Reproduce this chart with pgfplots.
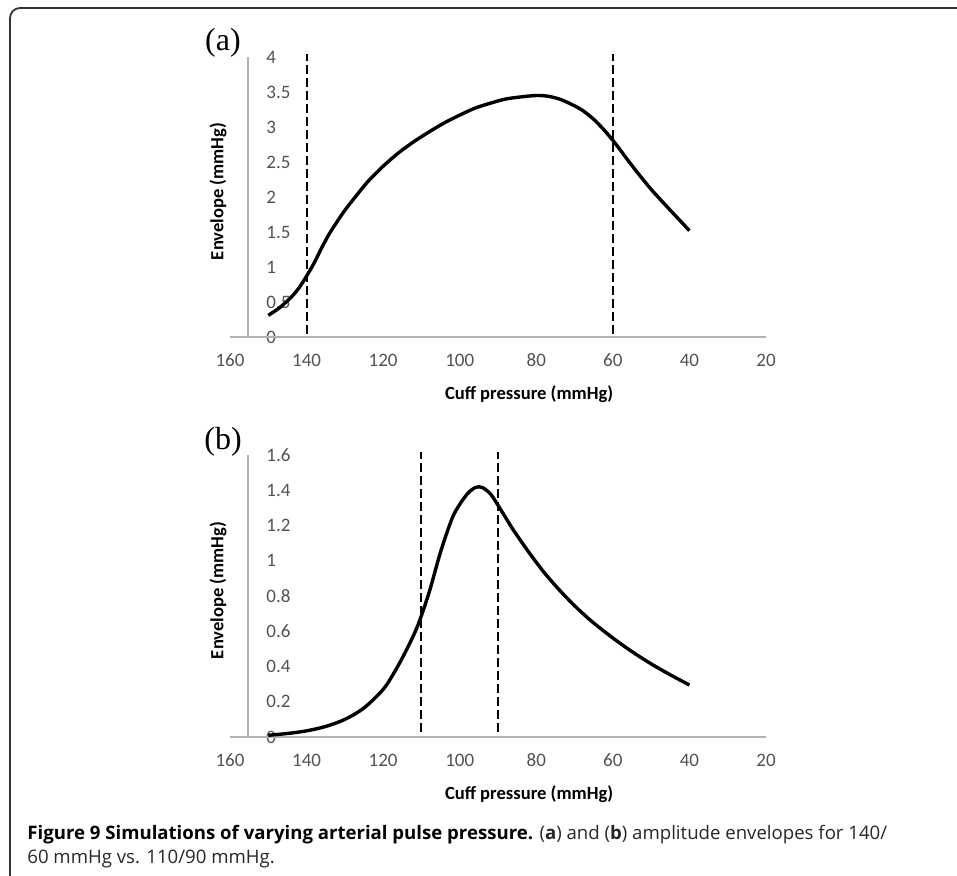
\documentclass[border=0pt]{standalone}
\usepackage{pgfplots}
\pgfplotsset{compat=1.18}
\usepackage{fontspec}
\setmainfont{Open Sans}
\newfontfamily\chartfont{Carlito}
\newfontfamily\panelfont{Liberation Serif}

\pgfplotsset{
  envaxis/.style={
    scale only axis,
    width=268pt,
    xmin=20, xmax=160, x dir=reverse,
    ymin=0,
    clip=false,
    axis line style={draw=none},
    major tick length=0pt,
    tick style={draw=none},
    xtick={20,40,...,160},
    /pgf/number format/assume math mode=true,
    tick label style={font=\chartfont\fontsize{9.5}{11}\selectfont, text=black!68},
    xticklabel style={anchor=center, yshift=-11.5pt},
    yticklabel style={anchor=west, inner sep=0pt, xshift=18pt},
    every axis x label/.style={at={(axis description cs:0.558,0)}, anchor=base, yshift=-31pt,
      font=\chartfont\bfseries\fontsize{9.3}{11}\selectfont},
    every axis y label/.style={at={(axis description cs:-0.0224,0.52)}, rotate=90, anchor=center,
      font=\chartfont\bfseries\fontsize{9.3}{11}\selectfont},
    xlabel={Cuff pressure (mmHg)},
    ylabel={Envelope (mmHg)},
  },
  envcurve/.style={black, line width=1.7pt, smooth},
  envdash/.style={black, line width=1pt, dash pattern=on 4.5pt off 2pt},
}

\begin{document}
\begin{tikzpicture}
\useasboundingbox (0pt,0pt) rectangle (478.5pt,-437.5pt);
\begin{scope}
  \clip (0pt,0pt) rectangle (478.5pt,-437.5pt);
  \draw[line width=0.9pt, black!80, rounded corners=5pt] (5pt,-4pt) rectangle (495pt,-447pt);
\end{scope}

% (a) 140/60 mmHg
\begin{axis}[envaxis, at={(115pt,-168.5pt)}, anchor=south west,
  height=140pt, ymax=4, ytick={0,0.5,...,4}]
  \draw[black!30, line width=0.6pt] (axis cs:160,0) -- (axis cs:20,0);
  \draw[black!30, line width=0.6pt] (axis cs:155.3,0) -- (axis cs:155.3,4);
  \addplot[envdash] coordinates {(140,0.04) (140,4.05)};
  \addplot[envdash] coordinates {(60,0.04) (60,4.05)};
  \addplot[envcurve] coordinates {
    (150,0.31) (147,0.42) (144,0.57) (142,0.70) (140,0.87) (138,1.06)
    (136,1.28) (134,1.48) (132,1.65) (130,1.81) (127,2.02) (124,2.22)
    (120,2.44) (116,2.63) (112,2.79) (108,2.93) (104,3.06) (100,3.17)
    (96,3.27) (92,3.34) (88,3.40) (84,3.43) (80,3.45) (77,3.44) (74,3.40)
    (71,3.33) (68,3.24) (65,3.11) (62,2.94) (59,2.74) (56,2.52) (53,2.31)
    (50,2.11) (46,1.87) (43,1.695) (40,1.52)
  };
\end{axis}

% (b) 110/90 mmHg
\begin{axis}[envaxis, at={(115pt,-368.5pt)}, anchor=south west,
  height=141pt, ymax=1.6, ytick={0,0.2,...,1.6}]
  \draw[black!30, line width=0.6pt] (axis cs:160,0) -- (axis cs:20,0);
  \draw[black!30, line width=0.6pt] (axis cs:155.3,0) -- (axis cs:155.3,1.6);
  \addplot[envdash] coordinates {(110,0.03) (110,1.617)};
  \addplot[envdash] coordinates {(90,0.03) (90,1.617)};
  \addplot[envcurve] coordinates {
    (150,0.01) (145,0.02) (140,0.035) (135,0.06) (130,0.10) (125,0.165)
    (120,0.27) (117,0.37) (114,0.49) (111,0.63) (108,0.82) (105,1.05)
    (102,1.24) (100,1.32) (98,1.38) (97,1.40) (96,1.415) (95,1.42)
    (94,1.415) (93,1.40) (92,1.38) (91,1.35) (90,1.315) (88,1.245)
    (86,1.175) (82,1.05) (78,0.935) (74,0.835) (70,0.745) (66,0.665)
    (62,0.595) (58,0.53) (54,0.47) (50,0.415) (46,0.365) (42,0.318) (40,0.295)
  };
\end{axis}

\node[font=\panelfont\fontsize{16}{18}\selectfont] at (111.5pt,-21.5pt) {(a)};
\node[font=\panelfont\fontsize{16}{18}\selectfont] at (111.5pt,-221pt) {(b)};

\node[anchor=base west, inner sep=0pt, font=\fontsize{9.3}{12}\selectfont, text=black!85]
  at (13.5pt,-419.5pt) {\textbf{\color{black}Figure 9 Simulations of varying arterial pulse pressure.} (\textbf{a}) and (\textbf{b}) amplitude envelopes for 140/};
\node[anchor=base west, inner sep=0pt, font=\fontsize{9.3}{12}\selectfont, text=black!85]
  at (13.5pt,-431.5pt) {60 mmHg vs. 110/90 mmHg.};
\end{tikzpicture}
\end{document}
